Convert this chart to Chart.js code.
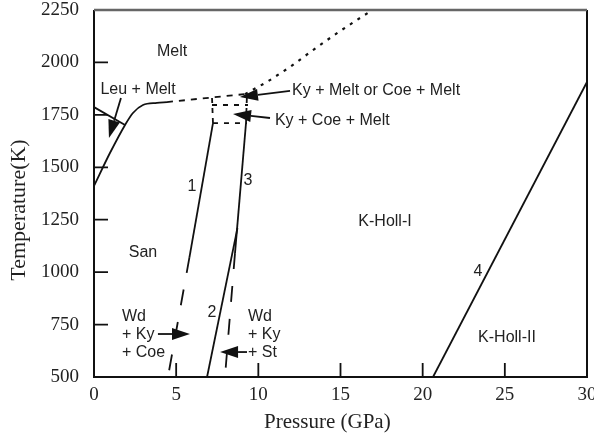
<!DOCTYPE html>
<html>
<head>
<meta charset="utf-8">
<script src="https://cdn.jsdelivr.net/npm/chart.js@4/dist/chart.umd.min.js"></script>
<style>
  html, body { margin: 0; padding: 0; background: #fff; }
  canvas { display: block; }
</style>
</head>
<body>
<canvas id="phase-chart" width="594" height="435"></canvas>
<script>
// --- Data (pressure in GPa, temperature in K) ---
const xTicks = [0, 5, 10, 15, 20, 25, 30];
const yTicks = [500, 750, 1000, 1250, 1500, 1750, 2000, 2250];

// Leu + Melt / San boundary
const leuP = [0, 1.89];
const leuT = [1787, 1702];

// San solidus (solid part, then metastable dashed extension)
const solidusP = [0, 0.97, 1.89, 2.37, 2.98, 3.83, 4.44];
const solidusT = [1411, 1568, 1702, 1759, 1797, 1807, 1811];
const solidusExtP = [4.44, 9.19];
const solidusExtT = [1811, 1849];

// Melting curve at higher pressure (dotted)
const meltP = [9.19, 10.53, 11.93, 13.33, 14.79, 16.19, 16.95];
const meltT = [1849, 1907, 1978, 2059, 2140, 2212, 2250];

// Small box of melting reactions between curves 1 and 3
const boxMidP = [7.18, 9.37];
const boxMidT = [1797, 1797];
const boxLowP = [7.24, 9.31];
const boxLowT = [1711, 1711];
const box1P = [7.24, 7.18];
const box1T = [1711, 1835];
const box3P = [9.25, 9.31];
const box3T = [1711, 1849];

// Reaction 1
const r1SolidP = [7.24, 5.81];
const r1SolidT = [1711, 1072];
const r1DashP = [5.81, 4.50];
const r1DashT = [1072, 500];

// Reaction 3
const r3SolidP = [9.25, 8.58];
const r3SolidT = [1711, 1091];
const r3DashP = [8.58, 7.97];
const r3DashT = [1091, 500];

// Reaction 2
const r2P = [6.88, 8.73];
const r2T = [500, 1210];

// Reaction 4 (K-Holl-I / K-Holl-II)
const r4P = [20.63, 30];
const r4T = [500, 1907];

// --- Annotations (data coordinates) ---
const arrows = [
    { from: [1.64, 1830], to: [0.91, 1640] },
    { from: [11.93, 1864], to: [8.88, 1835] },
    { from: [10.71, 1735], to: [8.46, 1754] },
    { from: [3.89, 705], to: [5.84, 705] },
    { from: [9.31, 619], to: [7.67, 619] }
];

const labels = [
    { text: 'Melt', at: [4.75, 2050], align: 'center' },
    { text: 'Leu + Melt', at: [2.68, 1869], align: 'center' },
    { text: 'Ky + Melt or Coe + Melt', at: [12.05, 1864], align: 'left' },
    { text: 'Ky + Coe + Melt', at: [11.01, 1721], align: 'left' },
    { text: '1', at: [5.96, 1406], align: 'center' },
    { text: '3', at: [9.37, 1435], align: 'center' },
    { text: '2', at: [7.18, 805], align: 'center' },
    { text: '4', at: [23.37, 1001], align: 'center' },
    { text: 'San', at: [2.98, 1091], align: 'center' },
    { text: 'K-Holl-I', at: [17.71, 1239], align: 'center' },
    { text: 'K-Holl-II', at: [25.13, 686], align: 'center' },
    { text: 'Wd', at: [1.70, 786], align: 'left' },
    { text: '+ Ky', at: [1.70, 700], align: 'left' },
    { text: '+ Coe', at: [1.70, 614], align: 'left' },
    { text: 'Wd', at: [9.37, 786], align: 'left' },
    { text: '+ Ky', at: [9.37, 700], align: 'left' },
    { text: '+ St', at: [9.37, 614], align: 'left' }
];

const toPoints = (px, ty) => px.map((p, i) => ({ x: p, y: ty[i] }));

const line = (px, ty, dash, extra) => Object.assign({
    data: toPoints(px, ty),
    showLine: true,
    borderColor: '#111',
    borderWidth: 1.8,
    borderDash: dash,
    pointRadius: 0,
    fill: false
}, extra || {});

// --- Overlay: frame, inward ticks, arrows, region labels ---
const overlay = {
    id: 'overlay',
    afterDatasetsDraw(chart) {
        const { ctx, chartArea: a, scales: { x, y } } = chart;
        ctx.save();

        // frame
        ctx.lineWidth = 2;
        ctx.strokeStyle = '#111';
        ctx.beginPath();
        ctx.moveTo(a.left, a.top);
        ctx.lineTo(a.left, a.bottom);
        ctx.lineTo(a.right, a.bottom);
        ctx.lineTo(a.right, a.top);
        ctx.stroke();
        ctx.strokeStyle = '#666';
        ctx.lineWidth = 2.5;
        ctx.beginPath();
        ctx.moveTo(a.left, a.top);
        ctx.lineTo(a.right, a.top);
        ctx.stroke();

        // ticks point inward
        ctx.strokeStyle = '#111';
        ctx.lineWidth = 1.8;
        ctx.beginPath();
        xTicks.forEach(v => {
            if (v <= x.min || v >= x.max) return;
            const px = x.getPixelForValue(v);
            ctx.moveTo(px, a.bottom);
            ctx.lineTo(px, a.bottom - 14);
        });
        yTicks.forEach(v => {
            if (v <= y.min || v >= y.max) return;
            const py = y.getPixelForValue(v);
            ctx.moveTo(a.left, py);
            ctx.lineTo(a.left + 14, py);
        });
        ctx.stroke();

        // arrows
        ctx.fillStyle = '#111';
        arrows.forEach(arr => {
            const x0 = x.getPixelForValue(arr.from[0]);
            const y0 = y.getPixelForValue(arr.from[1]);
            const x1 = x.getPixelForValue(arr.to[0]);
            const y1 = y.getPixelForValue(arr.to[1]);
            const ang = Math.atan2(y1 - y0, x1 - x0);
            const len = 18, half = 6;
            const bx = x1 - len * Math.cos(ang);
            const by = y1 - len * Math.sin(ang);
            ctx.beginPath();
            ctx.moveTo(x0, y0);
            ctx.lineTo(bx, by);
            ctx.stroke();
            ctx.beginPath();
            ctx.moveTo(x1, y1);
            ctx.lineTo(bx + half * Math.sin(ang), by - half * Math.cos(ang));
            ctx.lineTo(bx - half * Math.sin(ang), by + half * Math.cos(ang));
            ctx.closePath();
            ctx.fill();
        });

        // region labels
        ctx.fillStyle = '#222';
        ctx.font = '16px "Liberation Sans", Arial, sans-serif';
        ctx.textBaseline = 'middle';
        labels.forEach(l => {
            ctx.textAlign = l.align;
            ctx.fillText(l.text, x.getPixelForValue(l.at[0]), y.getPixelForValue(l.at[1]));
        });

        ctx.restore();
    }
};

const serif = '"Liberation Serif", "Times New Roman", serif';

new Chart(document.getElementById('phase-chart'), {
    type: 'scatter',
    data: {
        datasets: [
            line(leuP, leuT, []),
            line(solidusP, solidusT, [], { cubicInterpolationMode: 'monotone' }),
            line(solidusExtP, solidusExtT, [6, 6]),
            line(meltP, meltT, [3, 6], { borderWidth: 2.2 }),
            line(boxMidP, boxMidT, [5, 6]),
            line(boxLowP, boxLowT, [5, 6]),
            line(box1P, box1T, [5, 5]),
            line(box3P, box3T, [5, 5]),
            line(r1SolidP, r1SolidT, []),
            line(r1DashP, r1DashT, [16, 17]),
            line(r3SolidP, r3SolidT, []),
            line(r3DashP, r3DashT, [16, 17]),
            line(r2P, r2T, []),
            line(r4P, r4T, [])
        ]
    },
    options: {
        responsive: false,
        animation: false,
        devicePixelRatio: 1,
        layout: { padding: { top: 10, right: 7, left: 0, bottom: 0 } },
        plugins: {
            legend: { display: false },
            tooltip: { enabled: false }
        },
        scales: {
            x: {
                type: 'linear',
                min: 0,
                max: 30,
                grid: { display: false, drawTicks: false },
                border: { display: false },
                afterBuildTicks: scale => { scale.ticks = xTicks.map(v => ({ value: v })); },
                ticks: {
                    color: '#222',
                    padding: 7,
                    maxRotation: 0,
                    autoSkip: false,
                    callback: v => String(v),
                    font: { family: serif, size: 19 }
                },
                title: {
                    display: true,
                    text: 'Pressure (GPa)     ',
                    color: '#222',
                    padding: { top: 0, bottom: 0 },
                    font: { family: serif, size: 21 }
                },
                afterFit: scale => {
                    scale.height = 58;
                    scale.paddingLeft = 0;
                    scale.paddingRight = 0;
                }
            },
            y: {
                type: 'linear',
                min: 500,
                max: 2250,
                grid: { display: false, drawTicks: false },
                border: { display: false },
                afterBuildTicks: scale => { scale.ticks = yTicks.map(v => ({ value: v })); },
                ticks: {
                    color: '#222',
                    padding: 15,
                    autoSkip: false,
                    callback: v => String(v),
                    font: { family: serif, size: 19 }
                },
                title: {
                    display: true,
                    text: 'Temperature(K)      ',
                    color: '#222',
                    padding: { top: 6, bottom: 0 },
                    font: { family: serif, size: 22 }
                },
                afterFit: scale => {
                    scale.width = 94;
                    scale.paddingTop = 0;
                    scale.paddingBottom = 0;
                }
            }
        }
    },
    plugins: [overlay]
});
</script>
</body>
</html>
